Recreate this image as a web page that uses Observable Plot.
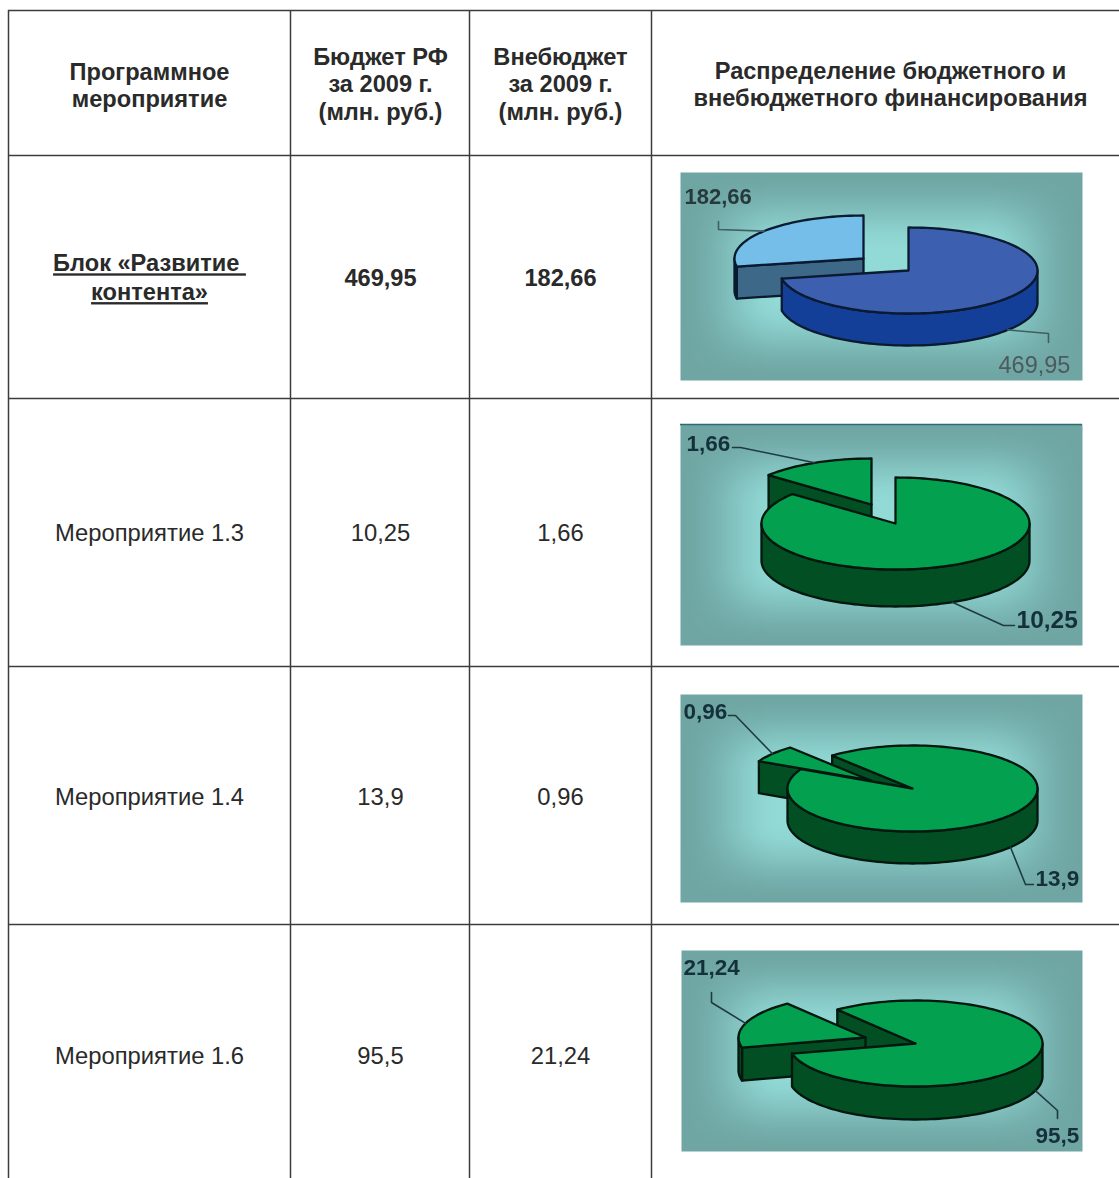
<!DOCTYPE html>
<html lang="ru">
<head>
<meta charset="utf-8">
<style>
  html, body { margin: 0; padding: 0; background: #fff; overflow: hidden; }
  svg { display: block; }
</style>
<script src="https://cdn.jsdelivr.net/npm/d3@7"></script>
<script src="https://cdn.jsdelivr.net/npm/@observablehq/plot@0.6"></script>
</head>
<body>
<div id="chart"></div>
<script>
// Funding values, in million roubles, one entry per table row.
const measures = ["Блок «Развитие \nконтента»", "Мероприятие 1.3", "Мероприятие 1.4", "Мероприятие 1.6"];
const budget = [469.95, 10.25, 13.9, 95.5];
const extraBudget = [182.66, 1.66, 0.96, 21.24];

const headers = [
  "Программное\nмероприятие",
  "Бюджет РФ\nза 2009 г.\n(млн. руб.)",
  "Внебюджет\nза 2009 г.\n(млн. руб.)",
  "Распределение бюджетного и\nвнебюджетного финансирования"
];

// Table grid.
const W = 1119, H = 1178;
const colEdges = [8, 290, 469, 651];
const rowEdges = [10, 155, 398, 666, 924];
const colCenters = [149, 380, 560, 890];
const headerLineY = [84, 83, 83, 83];
const rowCenters = [278, 533, 797, 1056];
const blockNameY = 276;

// Placement of the pie panel in each row: frame, main slice centre, radii,
// wall depth, detached slice apex, starting angle (degrees clockwise from noon).
const panels = [
  {x1: 680, x2: 1082, y1: 172, y2: 380, cx: 908, cy: 270, rx: 129, ry: 43, depth: 32, ax: 863, ay: 258, start: 0,
   mainTop: "#3d5fb0", mainSide: "#133f98", smallTop: "#74bee9", smallSide: "#3e6888", edge: "#0a1a30", leader: "#3f5f62",
   smallBend: [718, 229], smallEnd: [718, 221], mainBend: [1048, 333], mainEnd: [1048, 342],
   smallLabel: [684, 196, 22, "bold", "#26393d"], mainLabel: [998, 365, 23.5, "normal", "#4d5a5e"]},
  {x1: 680, x2: 1082, y1: 424, y2: 645, cx: 895, cy: 523, rx: 134, ry: 46, depth: 37, ax: 871, ay: 504, start: 0,
   topLine: "#2f6a70",
   mainTop: "#03a04f", mainSide: "#014f22", smallTop: "#03a04f", smallSide: "#014f22", edge: "#03170f", leader: "#1f3b40",
   smallBend: [740, 447], smallEnd: [732, 447], mainBend: [1003, 625], mainEnd: [1014, 625],
   smallLabel: [686, 443, 22.5, "bold", "#14303a"], mainLabel: [1016, 620, 24.5, "bold", "#14303a"]},
  {x1: 680, x2: 1082, y1: 694, y2: 902, cx: 912, cy: 788, rx: 125, ry: 43, depth: 32, ax: 870, ay: 780, start: 320,
   mainTop: "#03a04f", mainSide: "#014f22", smallTop: "#03a04f", smallSide: "#014f22", edge: "#03170f", leader: "#1f3b40",
   smallBend: [735, 715], smallEnd: [728, 715], mainBend: [1025, 884], mainEnd: [1033, 884],
   smallLabel: [683, 711, 22.5, "bold", "#14303a"], mainLabel: [1035, 878, 22.5, "bold", "#14303a"]},
  {x1: 681, x2: 1082, y1: 950, y2: 1151, cx: 915, cy: 1043, rx: 127, ry: 43, depth: 33, ax: 865, ay: 1037, start: 322,
   mainTop: "#03a04f", mainSide: "#014f22", smallTop: "#03a04f", smallSide: "#014f22", edge: "#03170f", leader: "#1f3b40",
   smallBend: [711, 1002], smallEnd: [711, 992], mainBend: [1057, 1110], mainEnd: [1057, 1118],
   smallLabel: [683, 967, 22.5, "bold", "#14303a"], mainLabel: [1035, 1135, 22.5, "bold", "#14303a"]}
];

const comma = (v) => String(v).replace(".", ",");
const rad = (deg) => (deg * Math.PI) / 180;
const rim = (p, ox, oy, deg, drop = 0) => ({
  x: ox + Math.sin(rad(deg)) * p.rx,
  y: oy - Math.cos(rad(deg)) * p.ry + drop
});
const arc = (p, ox, oy, a, b, drop = 0) => {
  const n = Math.max(2, Math.ceil(Math.abs(b - a) / 2));
  return d3.range(n + 1).map((i) => rim(p, ox, oy, a + ((b - a) * i) / n, drop));
};
const closed = (pts) => [...pts, pts[0]];

// Slice outline as seen from above.
const topFace = (p, ox, oy, a, b) => closed([{x: ox, y: oy}, ...arc(p, ox, oy, a, b)]);

// Cut face running from the apex to the rim at one angle.
const cutFace = (p, ox, oy, deg) => {
  const r = rim(p, ox, oy, deg);
  return closed([{x: ox, y: oy}, r, {x: r.x, y: r.y + p.depth}, {x: ox, y: oy + p.depth}]);
};

// Outer wall pieces that face the viewer, i.e. the part of the rim in the lower half.
const walls = (p, ox, oy, a, b) => {
  const parts = [];
  for (const k of [-360, 0, 360]) {
    const lo = Math.max(a, 90 + k), hi = Math.min(b, 270 + k);
    if (lo < hi) parts.push(closed([...arc(p, ox, oy, lo, hi), ...arc(p, ox, oy, hi, lo, p.depth)]));
  }
  return parts;
};

const panelSoftness = (index, scales, values, dimensions, context, next) => {
  const g = next(index, scales, values, dimensions, context);
  g.style.filter = "blur(0.6px)";
  return g;
};

const polygon = (pts, fill, stroke) =>
  Plot.line(pts, {x: "x", y: "y", fill, stroke, strokeWidth: 2.3, strokeLinejoin: "round", render: panelSoftness});

// Soft frame-shaped shading behind each pie: darker near the panel edges.
const ramp = (d, reach) => {
  const t = Math.min(1, Math.max(0, d / reach));
  return t * t * (3 - 2 * t);
};
const shading = (p) => (x, y) =>
  ramp(Math.min(x - p.x1, p.x2 - x), 100) * ramp(Math.min(y - p.y1, p.y2 - y), 80);

const panelMarks = panels.flatMap((p, i) => {
  const total = budget[i] + extraBudget[i];
  const mainSpan = (budget[i] / total) * 360;
  const mainFrom = p.start, mainTo = p.start + mainSpan;
  const smallFrom = mainTo, smallTo = p.start + 360;
  const marks = [
    Plot.raster({fill: shading(p), x1: p.x1, x2: p.x2, y1: p.y1, y2: p.y2, pixelSize: 2})
  ];
  if (p.topLine) marks.push(Plot.ruleY([p.y1], {x1: p.x1, x2: p.x2, stroke: p.topLine, strokeWidth: 1.5}));
  // The cut of the main slice that faces the viewer sits behind the detached slice.
  if (Math.sin(rad(mainFrom)) < -0.01) marks.push(polygon(cutFace(p, p.cx, p.cy, mainFrom), p.mainSide, p.edge));
  if (Math.sin(rad(smallFrom)) < -0.01) marks.push(polygon(cutFace(p, p.ax, p.ay, smallFrom), p.smallSide, p.edge));
  for (const w of walls(p, p.ax, p.ay, smallFrom, smallTo)) marks.push(polygon(w, p.smallSide, p.edge));
  marks.push(polygon(topFace(p, p.ax, p.ay, smallFrom, smallTo), p.smallTop, p.edge));
  for (const w of walls(p, p.cx, p.cy, mainFrom, mainTo)) marks.push(polygon(w, p.mainSide, p.edge));
  marks.push(polygon(topFace(p, p.cx, p.cy, mainFrom, mainTo), p.mainTop, p.edge));

  // Leader lines start on the rim at the middle of each slice.
  const smallMid = (smallFrom + smallTo) / 2, mainMid = (mainFrom + mainTo) / 2;
  const toPoint = ([x, y]) => ({x, y});
  const leaderStyle = {x: "x", y: "y", stroke: p.leader, strokeWidth: 1.6, render: panelSoftness};
  marks.push(Plot.line([rim(p, p.ax, p.ay, smallMid), toPoint(p.smallBend), toPoint(p.smallEnd)], leaderStyle));
  marks.push(Plot.line([rim(p, p.cx, p.cy, mainMid, p.depth), toPoint(p.mainBend), toPoint(p.mainEnd)], leaderStyle));

  // Value labels.
  const label = (value, [x, y, fontSize, fontWeight, fill]) =>
    Plot.text([comma(value)], {
      x: () => x, y: () => y, text: (d) => d, textAnchor: "start", lineAnchor: "middle",
      fontSize, fontWeight, fill, fontFamily: "Liberation Sans", render: panelSoftness
    });
  marks.push(label(extraBudget[i], p.smallLabel), label(budget[i], p.mainLabel));
  return marks;
});

const textFont = {fontFamily: "Liberation Sans", fill: "#2a2a2a", textAnchor: "middle", lineAnchor: "middle"};
const underlined = (index, scales, values, dimensions, context, next) => {
  const g = next(index, scales, values, dimensions, context);
  g.style.textDecoration = "underline";
  g.style.whiteSpace = "pre";
  return g;
};

const headerTable = headers.map((text, i) => ({text, x: colCenters[i], y: headerLineY[i]}));
const bodyCells = measures.flatMap((name, i) => [
  {text: name, x: colCenters[0], y: i === 0 ? blockNameY : rowCenters[i], row: i},
  {text: comma(budget[i]), x: colCenters[1], y: rowCenters[i], row: i},
  {text: comma(extraBudget[i]), x: colCenters[2], y: rowCenters[i], row: i}
]);

const chart = Plot.plot({
  width: W,
  height: H,
  margin: 0,
  x: {domain: [0, W], range: [0, W], axis: null},
  y: {domain: [0, H], range: [0, H], axis: null},
  color: {type: "linear", domain: [0, 1], range: ["#6fa6a4", "#92dad6"]},
  style: {background: "#fff", overflow: "hidden"},
  marks: [
    ...panelMarks,
    Plot.ruleX(colEdges, {y1: rowEdges[0], y2: H, stroke: "#3c3c3c", strokeWidth: 1.5}),
    Plot.ruleY(rowEdges, {x1: colEdges[0], x2: W, stroke: "#3c3c3c", strokeWidth: 1.5}),
    Plot.text(headerTable, {...textFont, x: "x", y: "y", text: "text", fontWeight: "bold", fontSize: 23.6, lineHeight: 1.18}),
    Plot.text(bodyCells.filter((d) => d.row === 0 && d.x !== colCenters[0]),
      {...textFont, x: "x", y: "y", text: "text", fontWeight: "bold", fontSize: 23.6}),
    Plot.text(bodyCells.filter((d) => d.row === 0 && d.x === colCenters[0]),
      {...textFont, x: "x", y: "y", text: "text", fontWeight: "bold", fontSize: 23.6, lineHeight: 1.22, render: underlined}),
    Plot.text(bodyCells.filter((d) => d.row > 0),
      {...textFont, x: "x", y: "y", text: "text", fontSize: 23.8})
  ]
});
document.getElementById("chart").appendChild(chart);
</script>
</body>
</html>
